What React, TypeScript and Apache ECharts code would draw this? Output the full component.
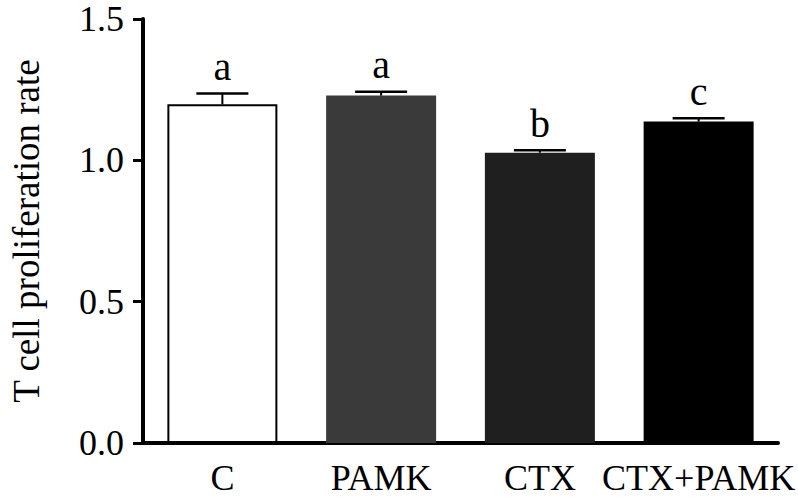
import React, { useEffect, useRef } from "react";
import * as echarts from "echarts";

const categories = ["C", "PAMK", "CTX", "CTX+PAMK"];
const means = [1.198, 1.229, 1.027, 1.137];
const errors = [0.038, 0.014, 0.009, 0.012];
const letters = ["a", "a", "b", "c"];
const barColors = ["#ffffff", "#3a3a3a", "#1f1f1f", "#000000"];
const yTicks = [0, 0.5, 1.0, 1.5];

const FONT = "'Liberation Serif', 'Times New Roman', serif";

export default function App() {
  const ref = useRef<HTMLDivElement>(null);
  useEffect(() => {
    if (!ref.current) return;
    const chart = echarts.init(ref.current, null, { renderer: "svg" });
    const option = {
      animation: false,
      backgroundColor: "#ffffff",
      grid: { left: 136, right: 20, top: 19, bottom: 54, containLabel: false },
      xAxis: {
        type: "category",
        data: categories,
        axisLine: { lineStyle: { color: "#000", width: 4 } },
        axisTick: { alignWithLabel: true, length: 10, lineStyle: { color: "#000", width: 3 } },
        axisLabel: { color: "#000", fontFamily: FONT, fontSize: 36, margin: 17, interval: 0 },
      },
      yAxis: {
        type: "value",
        min: 0,
        max: 1.5,
        interval: 0.5,
        name: "T cell proliferation rate",
        nameLocation: "middle",
        nameGap: 98,
        nameTextStyle: { color: "#000", fontFamily: FONT, fontSize: 37 },
        splitLine: { show: false },
        axisLine: { show: true, lineStyle: { color: "#000", width: 4 } },
        axisTick: { show: true, length: 10, lineStyle: { color: "#000", width: 3 } },
        axisLabel: {
          color: "#000",
          fontFamily: FONT,
          fontSize: 36,
          lineHeight: 30,
          margin: 19,
          formatter: (v: number) => (yTicks.includes(v) ? v.toFixed(1) : ""),
        },
      },
      series: [
        {
          type: "bar",
          barWidth: 110,
          data: means.map((m, i) => ({
            value: m,
            itemStyle: {
              color: barColors[i],
              borderColor: "#000",
              borderWidth: i === 0 ? 2 : 0,
            },
          })),
          z: 2,
        },
        {
          type: "custom",
          z: 3,
          data: means.map((m, i) => [i, m, errors[i]]),
          renderItem: (params: any, api: any) => {
            const idx = api.value(0);
            const m = api.value(1);
            const e = api.value(2);
            const base = api.coord([idx, m]);
            const top = api.coord([idx, m + e]);
            const half = 26;
            return {
              type: "group",
              children: [
                {
                  type: "line",
                  shape: { x1: base[0], y1: base[1], x2: top[0], y2: top[1] },
                  style: { stroke: "#000", lineWidth: 2 },
                },
                {
                  type: "line",
                  shape: { x1: top[0] - half, y1: top[1], x2: top[0] + half, y2: top[1] },
                  style: { stroke: "#000", lineWidth: 2.5 },
                },
                {
                  type: "text",
                  x: top[0],
                  y: top[1] - 7,
                  style: {
                    text: letters[params.dataIndex],
                    fill: "#000",
                    font: `40px ${FONT}`,
                    textAlign: "center",
                    textVerticalAlign: "bottom",
                  },
                },
              ],
            };
          },
        },
      ],
    };
    chart.setOption(option as any);
    return () => chart.dispose();
  }, []);
  return (
    <div
      ref={ref}
      style={{ position: "fixed", left: 0, top: 0, width: 798, height: 497, background: "#fff" }}
    />
  );
}
